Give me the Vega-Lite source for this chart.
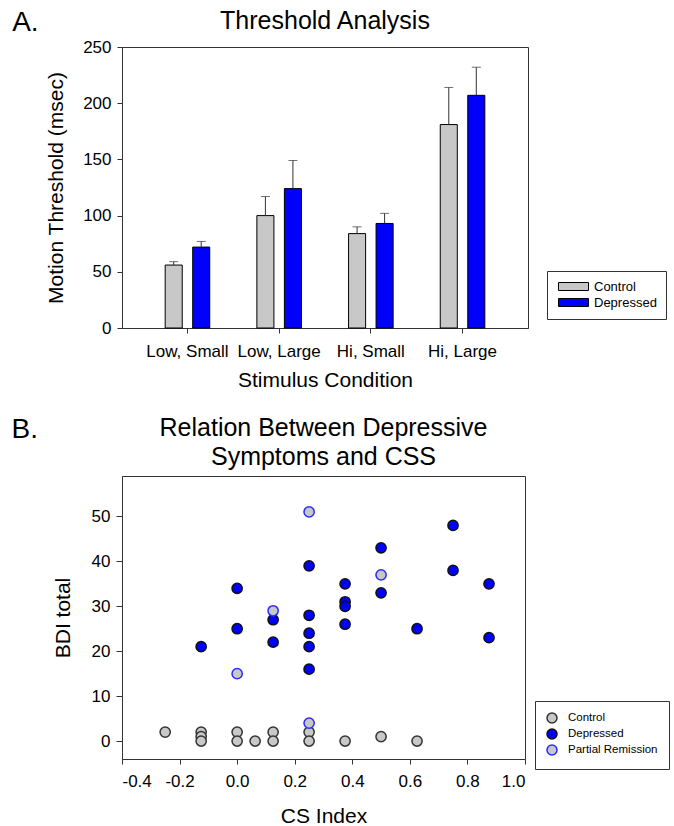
{
  "$schema": "https://vega.github.io/schema/vega-lite/v6.json",
  "background": "white",
  "padding": {"left": 11, "top": 8, "right": 4, "bottom": 0},
  "config": {
    "font": "Liberation Sans",
    "view": {"stroke": "#333", "strokeWidth": 1},
    "axis": {
      "grid": false, "domainColor": "#333", "tickColor": "#333",
      "labelColor": "black", "titleColor": "black",
      "labelFont": "Liberation Sans", "titleFont": "Liberation Sans",
      "titleFontWeight": "normal", "labelFontSize": 17, "titleFontSize": 21, "tickSize": 5
    },
    "title": {"font": "Liberation Sans", "fontWeight": "normal", "fontSize": 25, "color": "black"},
    "legend": {"labelFont": "Liberation Sans", "labelColor": "black", "strokeColor": "#333", "fillColor": "white"}
  },
  "columns": 1,
  "align": "none",
  "spacing": 24,
  "resolve": {
    "scale": {"color": "independent", "fill": "independent", "stroke": "independent"},
    "legend": {"color": "independent", "fill": "independent", "stroke": "independent"}
  },
  "concat": [
    {
      "title": {"text": "A.", "anchor": "start", "frame": "bounds", "offset": -28, "dx": -33, "fontSize": 28},
      "vconcat": [
        {
          "width": 406,
          "height": 281,
          "title": {"text": "Threshold Analysis", "anchor": "middle", "frame": "group", "offset": 4},
          "data": {"values": [
            {"Condition": "Low, Small", "Group": "Control", "Mean": 56, "Upper": 59},
            {"Condition": "Low, Small", "Group": "Depressed", "Mean": 72, "Upper": 77},
            {"Condition": "Low, Large", "Group": "Control", "Mean": 100, "Upper": 117},
            {"Condition": "Low, Large", "Group": "Depressed", "Mean": 124, "Upper": 149},
            {"Condition": "Hi, Small", "Group": "Control", "Mean": 84, "Upper": 90},
            {"Condition": "Hi, Small", "Group": "Depressed", "Mean": 93, "Upper": 102},
            {"Condition": "Hi, Large", "Group": "Control", "Mean": 181, "Upper": 214},
            {"Condition": "Hi, Large", "Group": "Depressed", "Mean": 207, "Upper": 232}
          ]},
          "encoding": {
            "x": {
              "field": "Condition", "type": "nominal", "sort": null,
              "scale": {"paddingInner": 0.4, "paddingOuter": 0.414},
              "axis": {"title": "Stimulus Condition", "labelAngle": 0, "labelPadding": 10, "titlePadding": 10}
            },
            "xOffset": {
              "field": "Group", "type": "nominal",
              "scale": {"paddingInner": 0.38, "paddingOuter": 0.19}
            }
          },
          "layer": [
            {
              "mark": {"type": "bar", "stroke": "black", "strokeWidth": 1},
              "encoding": {
                "y": {
                  "field": "Mean", "type": "quantitative", "title": "Motion Threshold (msec)",
                  "scale": {"domain": [0, 250], "nice": false},
                  "axis": {"values": [0, 50, 100, 150, 200, 250], "labelPadding": 6, "titlePadding": 16}
                },
                "color": {
                  "field": "Group", "type": "nominal",
                  "scale": {"domain": ["Control", "Depressed"], "range": ["#c8c8c8", "#0000ff"]},
                  "legend": {
                    "title": null, "orient": "none", "legendX": 425, "legendY": 224,
                    "symbolType": "M-1,-1H6.5V1H-1Z", "symbolSize": 64,
                    "symbolStrokeColor": "black", "symbolStrokeWidth": 1,
                    "labelFontSize": 13, "labelOffset": 25, "rowPadding": 2, "padding": 9
                  }
                }
              }
            },
            {
              "mark": {"type": "rule", "color": "#333", "strokeWidth": 1},
              "encoding": {
                "y": {"field": "Mean", "type": "quantitative", "title": "Motion Threshold (msec)"},
                "y2": {"field": "Upper"}
              }
            },
            {
              "mark": {"type": "tick", "orient": "horizontal", "size": 9, "thickness": 1, "color": "#333"},
              "encoding": {
                "y": {"field": "Upper", "type": "quantitative", "title": "Motion Threshold (msec)"}
              }
            }
          ]
        }
      ]
    },
    {
      "title": {"text": "B.", "anchor": "start", "frame": "bounds", "offset": -28, "dx": -40, "fontSize": 28},
      "vconcat": [
        {
          "width": 403,
          "height": 283,
          "title": {"text": ["Relation Between Depressive", "Symptoms and CSS"], "anchor": "middle", "frame": "group", "offset": 6, "lineHeight": 29},
          "data": {"values": [
            {"CS": -0.25, "BDI": 2, "Status": "Control"},
            {"CS": -0.125, "BDI": 2, "Status": "Control"},
            {"CS": -0.125, "BDI": 1, "Status": "Control"},
            {"CS": -0.125, "BDI": 0, "Status": "Control"},
            {"CS": 0, "BDI": 2, "Status": "Control"},
            {"CS": 0, "BDI": 0, "Status": "Control"},
            {"CS": 0.0625, "BDI": 0, "Status": "Control"},
            {"CS": 0.125, "BDI": 2, "Status": "Control"},
            {"CS": 0.125, "BDI": 0, "Status": "Control"},
            {"CS": 0.25, "BDI": 2, "Status": "Control"},
            {"CS": 0.25, "BDI": 0, "Status": "Control"},
            {"CS": 0.375, "BDI": 0, "Status": "Control"},
            {"CS": 0.5, "BDI": 1, "Status": "Control"},
            {"CS": 0.625, "BDI": 0, "Status": "Control"},
            {"CS": -0.125, "BDI": 21, "Status": "Depressed"},
            {"CS": 0, "BDI": 34, "Status": "Depressed"},
            {"CS": 0, "BDI": 25, "Status": "Depressed"},
            {"CS": 0.125, "BDI": 27, "Status": "Depressed"},
            {"CS": 0.125, "BDI": 22, "Status": "Depressed"},
            {"CS": 0.25, "BDI": 39, "Status": "Depressed"},
            {"CS": 0.25, "BDI": 28, "Status": "Depressed"},
            {"CS": 0.25, "BDI": 24, "Status": "Depressed"},
            {"CS": 0.25, "BDI": 21, "Status": "Depressed"},
            {"CS": 0.25, "BDI": 16, "Status": "Depressed"},
            {"CS": 0.375, "BDI": 35, "Status": "Depressed"},
            {"CS": 0.375, "BDI": 31, "Status": "Depressed"},
            {"CS": 0.375, "BDI": 30, "Status": "Depressed"},
            {"CS": 0.375, "BDI": 26, "Status": "Depressed"},
            {"CS": 0.5, "BDI": 43, "Status": "Depressed"},
            {"CS": 0.5, "BDI": 33, "Status": "Depressed"},
            {"CS": 0.625, "BDI": 25, "Status": "Depressed"},
            {"CS": 0.75, "BDI": 48, "Status": "Depressed"},
            {"CS": 0.75, "BDI": 38, "Status": "Depressed"},
            {"CS": 0.875, "BDI": 35, "Status": "Depressed"},
            {"CS": 0.875, "BDI": 23, "Status": "Depressed"},
            {"CS": 0.25, "BDI": 51, "Status": "Partial Remission"},
            {"CS": 0.5, "BDI": 37, "Status": "Partial Remission"},
            {"CS": 0.125, "BDI": 29, "Status": "Partial Remission"},
            {"CS": 0, "BDI": 15, "Status": "Partial Remission"},
            {"CS": 0.25, "BDI": 4, "Status": "Partial Remission"}
          ]},
          "mark": {"type": "circle", "size": 105, "strokeWidth": 1.5, "opacity": 1},
          "encoding": {
            "x": {
              "field": "CS", "type": "quantitative", "title": "CS Index",
              "scale": {"domain": [-0.4, 1.0], "nice": false, "zero": false},
              "axis": {
                "values": [-0.4, -0.2, 0, 0.2, 0.4, 0.6, 0.8, 1.0],
                "labelExpr": "replace(format(datum.value, '.1f'), '\u2212', '-')",
                "labelPadding": 9, "titlePadding": 16
              }
            },
            "y": {
              "field": "BDI", "type": "quantitative", "title": "BDI total",
              "scale": {"domain": [-4, 59], "nice": false, "zero": false},
              "axis": {"values": [0, 10, 20, 30, 40, 50], "tickSize": 6, "labelPadding": 6, "titlePadding": 18}
            },
            "fill": {
              "field": "Status", "type": "nominal",
              "scale": {"domain": ["Control", "Depressed", "Partial Remission"], "range": ["#c8c8c8", "#0000ff", "#c8c8c8"]},
              "legend": {
                "title": null, "orient": "none", "legendX": 413, "legendY": 225,
                "symbolType": "circle", "symbolSize": 100, "symbolStrokeWidth": 1.5,
                "labelFontSize": 11.5, "labelOffset": 10, "rowPadding": 0, "padding": 11
              }
            },
            "stroke": {
              "field": "Status", "type": "nominal",
              "scale": {"domain": ["Control", "Depressed", "Partial Remission"], "range": ["#333333", "#111111", "#2a2aff"]},
              "legend": {
                "title": null, "orient": "none", "legendX": 413, "legendY": 225,
                "symbolType": "circle", "symbolSize": 100, "symbolStrokeWidth": 1.5,
                "labelFontSize": 11.5, "labelOffset": 10, "rowPadding": 0, "padding": 11
              }
            }
          }
        }
      ]
    }
  ]
}
